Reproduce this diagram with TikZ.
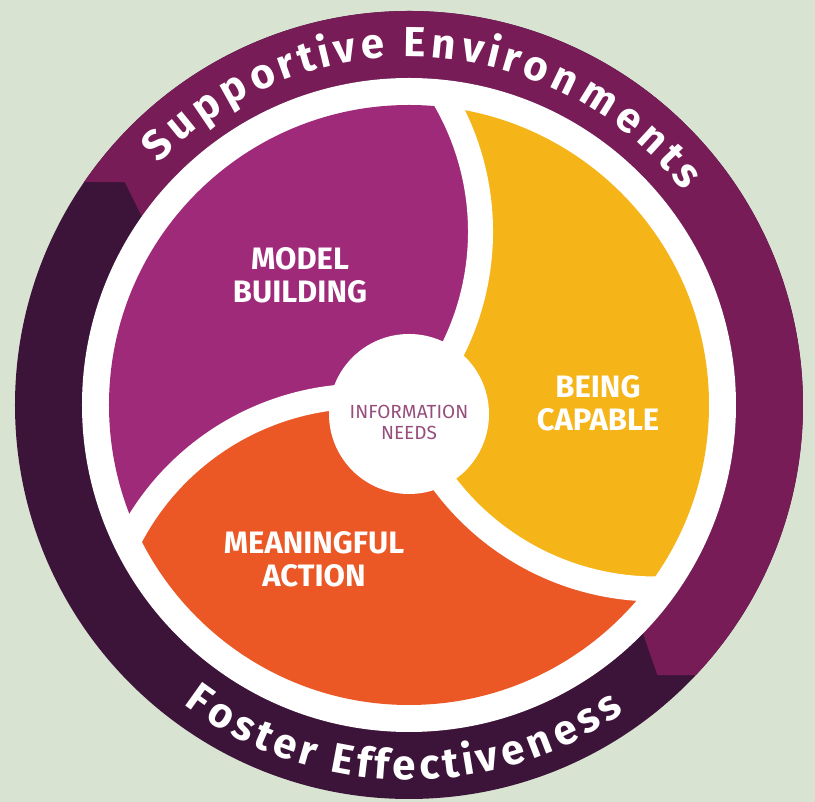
\documentclass[tikz,border=0pt]{standalone}
\usepackage{fontspec}
\setsansfont{Fira Sans}
\newcommand\ringtype{\sffamily\bfseries\fontsize{42}{42}\selectfont}
\usetikzlibrary{decorations.text}
\definecolor{mybg}{RGB}{217,227,210}
\definecolor{myringdark}{RGB}{61,20,57}
\definecolor{myringlight}{RGB}{120,28,88}
\definecolor{mypurple}{RGB}{160,42,122}
\definecolor{myyellow}{RGB}{245,180,24}
\definecolor{myorange}{RGB}{235,88,38}
\definecolor{myinfo}{RGB}{150,78,125}
\begin{document}
\begin{tikzpicture}[x=1pt,y=1pt,
  seglabel/.style={text=white,font=\sffamily\bfseries\fontsize{31}{33}\selectfont,align=center},
  infolabel/.style={text=myinfo,font=\sffamily\fontsize{19}{21}\selectfont,align=center},
  hub/.style={circle,fill=white,minimum size=160pt,inner sep=0pt},
  gapline/.style={white,line width=25pt},
  ringtext/.style={decorate,decoration={text effects along path,
    text effects/.cd,text along path,fit text to path,
    characters={text=white,font=\ringtype}}}]

  \fill[mybg] (-409,-397) rectangle (406,405);
  \useasboundingbox (-409,-397) rectangle (406,405);

  % outer ring: dark band, light arrow over the top
  \fill[myringdark] (0,0) circle (394);
  \fill[myringlight] (145.5:394) arc[start angle=145.5,end angle=-43.3,radius=394]
    -- (-47.4:367) -- (-44.3:327) arc[start angle=-44.3,end angle=144.8,radius=327]
    -- (141.9:361) -- cycle;
  \fill[white] (0,0) circle (327);

  % the three swirls, each edge an arc of radius 264
  \begin{scope}
    \clip (0,0) circle (300);
    \foreach \a/\b/\col in {82/204/mypurple,204/322/myorange,322/442/myyellow}
      \fill[\col] (0,-9) -- ([shift={(\a+56:259)}]\a-115:264)
        arc[start angle=\a-115,end angle=\a-45,radius=264]
        -- (\a+30:460) -- (\a+60:460) -- (\a+90:460)
        -- ([shift={(\b+56:259)}]\b-45:264)
        arc[start angle=\b-45,end angle=\b-115,radius=264] -- cycle;
  \end{scope}
  \foreach \a in {82,204,322}
    \draw[gapline] ([shift={(\a+56:259)}]\a-115:264)
      arc[start angle=\a-115,end angle=\a-50,radius=264];

  \node[hub] (hub) at (0,-9) {};
  \node[infolabel] (info) at (0,-17) {INFORMATION\\NEEDS};

  \node[seglabel] (model) at (-109,130) {MODEL\\BUILDING};
  \node[seglabel] (capable) at (189,2) {BEING\\CAPABLE};
  \node[seglabel] (action) at (-95,-154) {MEANINGFUL\\ACTION};

  % ring texts
  \path[ringtext,decoration={text={Supportive Environments}}]
    (136:348) arc[start angle=136,end angle=38,radius=348];
  \path[ringtext,decoration={text={Foster Effectiveness}}]
    (233:375) arc[start angle=233,end angle=305,radius=375];
\end{tikzpicture}
\end{document}
